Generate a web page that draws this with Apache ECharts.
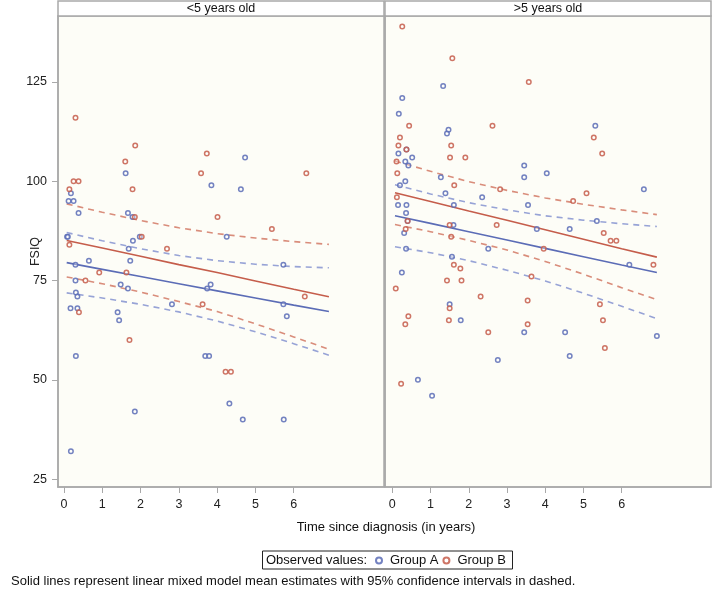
<!DOCTYPE html>
<html>
<head>
<meta charset="utf-8">
<title>FSIQ by time since diagnosis</title>
<script src="https://cdn.jsdelivr.net/npm/echarts@6/dist/echarts.min.js"></script>
<style>
  html, body { margin: 0; padding: 0; background: #fff; }
  #chart { width: 713px; height: 591px; }
</style>
</head>
<body>
<div id="chart"></div>
<script>
// panel titles
var panelTitles = ['<5 years old', '>5 years old']
var xTicks = [0, 1, 2, 3, 4, 5, 6]
var yTicks = [25, 50, 75, 100, 125]

// observed values, [years since diagnosis, FSIQ]
var youngGroupA = [
  [0.08, 86], [0.1, 86], [0.12, 95], [0.25, 95], [0.18, 97], [0.38, 92], [1.61, 102], [1.67, 92],
  [1.79, 91], [1.98, 86], [1.8, 85], [1.69, 83], [3.85, 99], [4.62, 98], [4.73, 106], [4.25, 86],
  [0.65, 80], [1.73, 80], [0.3, 79], [5.73, 79], [0.3, 75], [1.48, 74], [3.83, 74], [1.67, 73],
  [3.74, 73], [0.31, 72], [0.35, 71], [2.82, 69], [5.73, 69], [0.17, 68], [0.35, 68], [1.4, 67],
  [1.44, 65], [5.82, 66], [0.31, 56], [3.69, 56], [3.79, 56], [1.85, 42], [4.32, 44], [4.67, 40],
  [5.74, 40], [0.18, 32]
]
var youngGroupB = [
  [0.3, 116], [1.86, 109], [1.6, 105], [3.73, 107], [3.58, 102], [6.33, 102], [0.25, 100], [0.38, 100],
  [0.14, 98], [1.79, 98], [1.85, 91], [4.01, 91], [5.43, 88], [2.03, 86], [0.14, 84], [2.69, 83],
  [0.92, 77], [1.63, 77], [0.56, 75], [3.62, 69], [6.29, 71], [0.39, 67], [1.71, 60], [4.22, 52],
  [4.36, 52]
]
var oldGroupA = [
  [1.33, 124], [0.26, 121], [0.17, 117], [5.31, 114], [1.47, 113], [1.43, 112], [0.37, 108], [0.16, 107],
  [0.52, 106], [0.34, 105], [0.42, 104], [3.45, 104], [4.04, 102], [3.45, 101], [1.27, 101], [0.34, 100],
  [0.2, 99], [6.58, 98], [1.39, 97], [2.35, 96], [0.15, 94], [0.37, 94], [1.61, 94], [3.55, 94],
  [0.36, 92], [5.35, 90], [0.4, 90], [1.6, 89], [3.78, 88], [4.64, 88], [0.31, 87], [0.36, 83],
  [2.51, 83], [1.56, 81], [6.2, 79], [0.25, 77], [1.5, 69], [1.79, 65], [3.45, 62], [4.52, 62],
  [6.92, 61], [4.64, 56], [2.76, 55], [0.67, 50], [1.04, 46]
]
var oldGroupB = [
  [0.26, 139], [1.57, 131], [3.57, 125], [0.44, 114], [2.62, 114], [0.2, 111], [5.27, 111], [0.16, 109],
  [1.54, 109], [0.37, 108], [1.51, 106], [1.91, 106], [5.49, 107], [0.11, 105], [0.13, 102], [1.62, 99],
  [2.82, 98], [4.73, 95], [5.08, 97], [0.12, 96], [0.4, 90], [1.5, 89], [2.73, 89], [0.35, 88],
  [5.53, 87], [5.71, 85], [5.86, 85], [1.54, 86], [3.96, 83], [6.83, 79], [1.61, 79], [1.78, 78],
  [3.64, 76], [1.43, 75], [1.81, 75], [0.09, 73], [2.31, 71], [3.54, 70], [5.43, 69], [1.5, 68],
  [0.42, 66], [1.48, 65], [5.51, 65], [0.34, 64], [3.54, 64], [2.51, 62], [5.56, 58], [0.23, 49]
]

// model estimates read at these times
var fitX = [0.07, 1, 2, 3, 4, 5, 6, 6.92]
var youngMeanA = [79.5, 77.8, 76.0, 74.2, 72.4, 70.6, 68.8, 67.2]
var youngUpperA = [87.1, 85.0, 83.0, 81.3, 80.0, 79.1, 78.5, 78.2]
var youngLowerA = [71.9, 70.6, 69.0, 67.1, 64.8, 62.1, 59.1, 56.2]
var youngMeanB = [85.1, 83.2, 81.1, 79.0, 77.0, 74.9, 72.8, 70.9]
var youngUpperB = [94.3, 92.2, 90.1, 88.3, 86.8, 85.7, 84.8, 84.1]
var youngLowerB = [75.9, 74.2, 72.1, 69.7, 67.2, 64.1, 60.8, 57.7]
var oldMeanA = [91.3, 89.4, 87.3, 85.2, 83.1, 81.0, 78.9, 77.0]
var oldUpperA = [99.1, 96.8, 94.6, 92.8, 91.3, 90.2, 89.3, 88.6]
var oldLowerA = [83.5, 82.0, 80.0, 77.6, 74.9, 71.8, 68.5, 65.4]
var oldMeanB = [97.1, 94.9, 92.5, 90.2, 87.8, 85.4, 83.0, 80.9]
var oldUpperB = [105.1, 102.5, 99.9, 97.7, 95.8, 94.2, 92.8, 91.6]
var oldLowerB = [89.1, 87.3, 85.1, 82.7, 79.8, 76.6, 73.2, 70.2]

var FONT = "'Liberation Sans', Arial, sans-serif"
var BLUE = '#5b6cb6'
var RED = '#c55d4b'
var BLUE_DASH = '#97a3d6'
var RED_DASH = '#d98d7b'

function zip(xs, ys) {
  return xs.map(function (x, i) { return [x, ys[i]] })
}

function pointSeries(name, data, color, idx) {
  return {
    type: 'scatter',
    name: name,
    xAxisIndex: idx,
    yAxisIndex: idx,
    data: data,
    symbol: 'circle',
    symbolSize: 4.5,
    z: 3,
    itemStyle: {
      color: 'rgba(255,255,255,0.4)',
      borderColor: color,
      borderWidth: 1.5,
      opacity: 0.85
    }
  }
}

function lineSeries(name, ys, color, dashed, idx) {
  return {
    type: 'line',
    name: name,
    xAxisIndex: idx,
    yAxisIndex: idx,
    data: zip(fitX, ys),
    symbol: 'none',
    silent: true,
    z: 2,
    lineStyle: {
      color: color,
      width: 1.6,
      type: dashed ? [6, 5] : 'solid'
    }
  }
}

var axisGrey = '#a9a9a9'

function xAxisFor(idx, min, max) {
  return {
    type: 'value',
    gridIndex: idx,
    min: min,
    max: max,
    splitLine: { show: false },
    axisLine: { show: true, onZero: false, lineStyle: { color: axisGrey, width: 1.5 } },
    axisTick: { show: true, length: 6, customValues: xTicks, lineStyle: { color: axisGrey } },
    axisLabel: { customValues: xTicks, margin: 11, color: '#222', fontSize: 12.5, fontFamily: FONT }
  }
}

function yAxisFor(idx) {
  var first = idx === 0
  return {
    type: 'value',
    gridIndex: idx,
    min: 23,
    max: 141.62,
    splitLine: { show: false },
    axisLine: { show: true, onZero: false, lineStyle: { color: axisGrey, width: 1.5 } },
    axisTick: { show: first, length: 6, customValues: yTicks, lineStyle: { color: axisGrey } },
    axisLabel: { show: first, customValues: yTicks, margin: 11, color: '#222', fontSize: 12.5, fontFamily: FONT },
    name: first ? 'FSIQ' : '',
    nameLocation: 'middle',
    nameGap: 16,
    nameMoveOverlap: false,
    nameTextStyle: { color: '#222', fontSize: 12.5, fontFamily: FONT }
  }
}

var panels = [{ left: 58 }, { left: 385 }]

var chart = echarts.init(document.getElementById('chart'), null, { renderer: 'canvas' })

var option = {
  backgroundColor: '#ffffff',
  animation: false,
  grid: panels.map(function (p) {
    return {
      left: p.left, top: 16, width: 326, height: 471,
      show: true, backgroundColor: '#fdfdf7',
      borderColor: axisGrey, borderWidth: 1.5
    }
  }),
  xAxis: [xAxisFor(0, -0.157, 8.359), xAxisFor(1, -0.191, 8.336)],
  yAxis: [yAxisFor(0), yAxisFor(1)],
  legend: {
    data: ['Group A', 'Group B'],
    left: 370,
    top: 552,
    padding: [2, 5],
    itemWidth: 6,
    itemHeight: 6,
    itemGap: 4,
    selectedMode: false,
    textStyle: { color: '#111', fontSize: 13, fontFamily: FONT, padding: [0, 0, 0, 3] }
  },
  graphic: [
    // panel header strips
    { type: 'rect', shape: { x: 58, y: 1, width: 326, height: 15 }, style: { fill: '#fff', stroke: axisGrey, lineWidth: 1.5 } },
    { type: 'rect', shape: { x: 385, y: 1, width: 326, height: 15 }, style: { fill: '#fff', stroke: axisGrey, lineWidth: 1.5 } },
    { type: 'text', x: 221, y: 9, style: { text: panelTitles[0], fill: '#111', font: '12.5px ' + FONT, align: 'center', verticalAlign: 'middle' } },
    { type: 'text', x: 548, y: 9, style: { text: panelTitles[1], fill: '#111', font: '12.5px ' + FONT, align: 'center', verticalAlign: 'middle' } },
    // axis title shared by both panels
    { type: 'text', x: 386, y: 527, style: { text: 'Time since diagnosis (in years)', fill: '#111', font: '13px ' + FONT, align: 'center', verticalAlign: 'middle' } },
    // legend box
    { type: 'rect', shape: { x: 262.5, y: 551, width: 250, height: 18 }, style: { fill: 'none', stroke: '#222', lineWidth: 1 } },
    { type: 'text', x: 266, y: 560, style: { text: 'Observed values:', fill: '#111', font: '13px ' + FONT, align: 'left', verticalAlign: 'middle' } },
    // footnote
    { type: 'text', x: 11, y: 581, style: { text: 'Solid lines represent linear mixed model mean estimates with 95% confidence intervals in dashed.', fill: '#111', font: '13px ' + FONT, align: 'left', verticalAlign: 'middle' } }
  ],
  series: [
    lineSeries('young upper A', youngUpperA, BLUE_DASH, true, 0),
    lineSeries('young lower A', youngLowerA, BLUE_DASH, true, 0),
    lineSeries('young upper B', youngUpperB, RED_DASH, true, 0),
    lineSeries('young lower B', youngLowerB, RED_DASH, true, 0),
    lineSeries('young mean A', youngMeanA, BLUE, false, 0),
    lineSeries('young mean B', youngMeanB, RED, false, 0),
    pointSeries('Group A', youngGroupA, BLUE, 0),
    pointSeries('Group B', youngGroupB, RED, 0),

    lineSeries('old upper A', oldUpperA, BLUE_DASH, true, 1),
    lineSeries('old lower A', oldLowerA, BLUE_DASH, true, 1),
    lineSeries('old upper B', oldUpperB, RED_DASH, true, 1),
    lineSeries('old lower B', oldLowerB, RED_DASH, true, 1),
    lineSeries('old mean A', oldMeanA, BLUE, false, 1),
    lineSeries('old mean B', oldMeanB, RED, false, 1),
    pointSeries('Group A', oldGroupA, BLUE, 1),
    pointSeries('Group B', oldGroupB, RED, 1)
  ]
}

chart.setOption(option)
</script>
</body>
</html>
